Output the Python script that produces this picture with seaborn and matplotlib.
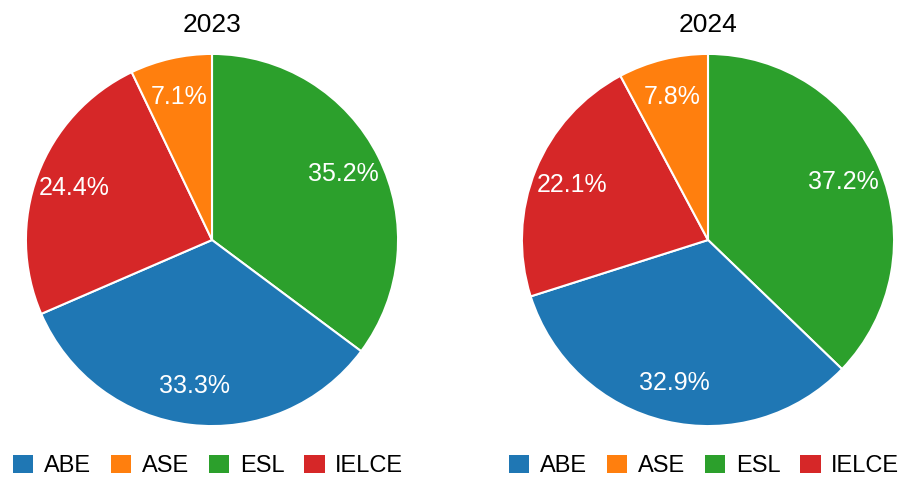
import matplotlib
matplotlib.use("Agg")
import matplotlib.pyplot as plt
import matplotlib.patches as mpatches
import seaborn as sns

# program shares by year
programs = ['ABE', 'ASE', 'ESL', 'IELCE']
years = ['2023', '2024']
share_2023 = [33.3, 7.1, 35.2, 24.4]
share_2024 = [32.9, 7.8, 37.2, 22.1]
# drawing order around the pie, clockwise from 12 o'clock
slice_order = ['ESL', 'ABE', 'IELCE', 'ASE']

sns.set_theme(style='white')
plt.rcParams['font.family'] = ['Liberation Sans', 'DejaVu Sans']
plt.rcParams['text.color'] = 'black'

palette = sns.color_palette('tab10', 4)
colors = dict(zip(programs, palette))

fig = plt.figure(figsize=(9.04, 4.78), dpi=100)
ax_w, ax_h = 374 / 904, 374 / 478
bottom = 51 / 478
lefts = [25 / 904, 521 / 904]

for left, year, shares in zip(lefts, years, [share_2023, share_2024]):
    ax = fig.add_axes([left, bottom, ax_w, ax_h])
    vals = dict(zip(programs, shares))
    sizes = [vals[p] for p in slice_order]
    cols = [colors[p] for p in slice_order]
    ax.pie(sizes, colors=cols, startangle=90, counterclock=False,
           autopct='%.1f%%', pctdistance=0.79,
           wedgeprops=dict(edgecolor='white', linewidth=1.5),
           textprops=dict(color='white', fontsize=18))
    ax.set_xlim(-1.005, 1.005)
    ax.set_ylim(-1.005, 1.005)
    ax.set_aspect('equal')
    ax.set_title(year, fontsize=19, pad=15, color='black')

    handles = [mpatches.Patch(facecolor=colors[p], edgecolor='none', label=p)
               for p in programs]
    ax.legend(handles=handles, loc='center', bbox_to_anchor=(0.49, -0.104),
              ncol=4, frameon=False, fontsize=17, handlelength=0.85,
              handleheight=0.85, handletextpad=0.45, columnspacing=0.85,
              borderaxespad=0, borderpad=0, labelcolor='black')

fig.savefig('out.png', dpi=100)
